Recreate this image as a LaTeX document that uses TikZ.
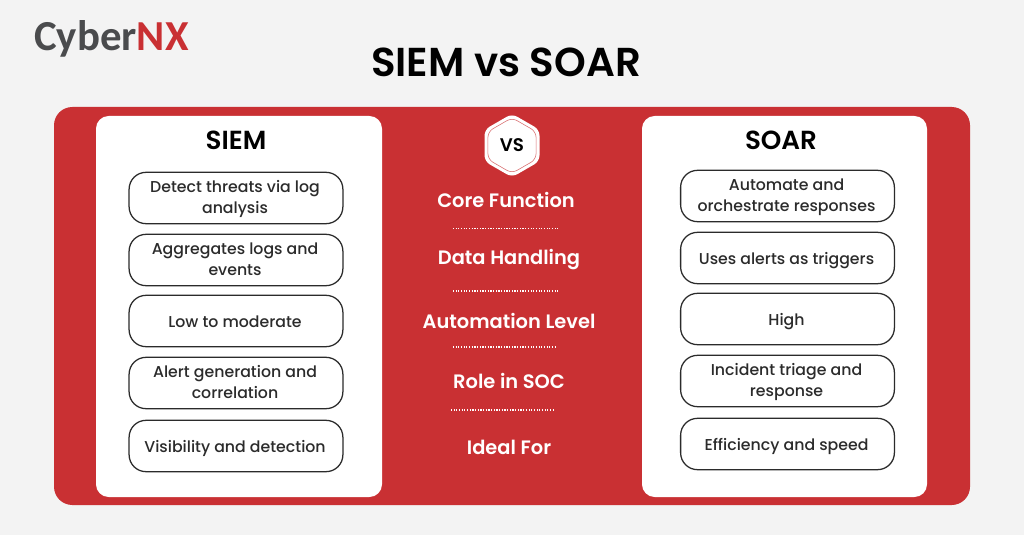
\documentclass[tikz,border=0pt]{standalone}
\usepackage{fontspec}
\usepackage{tikz}
\usetikzlibrary{shapes.geometric}
\setmainfont{Poppins Medium}[BoldFont={Poppins SemiBold}]
\newfontfamily\logofont{Carlito}
\definecolor{cxred}{HTML}{C93033}
\definecolor{cxpage}{HTML}{F3F3F3}
\definecolor{cxgrey}{HTML}{4A4B4D}
\definecolor{cxink}{HTML}{2B2B2B}
\tikzset{
    panel/.style={fill=white,rounded corners=9pt},
    cell/.style={draw=cxink,line width=0.9pt,fill=white,rounded corners=12pt,minimum width=152pt,minimum height=36.5pt,inner sep=0pt},
    celltext/.style={align=center,text=cxink,font=\fontsize{11.2}{15.2}\selectfont,inner sep=0pt,xshift=-0.7pt,yshift=-1.6pt,
        execute at begin node={\strut},execute at end node={\strut}},
    rowname/.style={text=white,font=\fontsize{13.8}{15}\selectfont\bfseries,text height=10pt,text depth=3pt,yshift=-2pt},
    colname/.style={text=black,font=\fontsize{18.6}{19}\selectfont\bfseries},
    rule/.style={white,line width=0.8pt,dash pattern=on 0.8pt off 1.1pt}
}
\begin{document}
\begin{tikzpicture}[x=0.711pt,y=-0.711pt]
    \useasboundingbox[fill=cxpage] (0,0) rectangle (1024,535);
    \fill[cxred,rounded corners=13pt] (54,107) rectangle (970,505);
    \fill[panel] (96,116) rectangle (382,497);
    \fill[panel] (642,116) rectangle (927,497);
    % header
    \node[anchor=base west,inner sep=0pt,font=\fontsize{30.4}{31}\selectfont\logofont\bfseries,text=cxgrey] (logo) at (34,51) {Cyber\textcolor{cxred}{NX}};
    \node[font=\fontsize{28.7}{30}\selectfont\bfseries,text=black] (title) at (506,62) {SIEM vs SOAR};
    \node[colname] (siem) at (236,140) {SIEM};
    \node[colname] (soar) at (781,140) {SOAR};
    % badge
    \node[draw=white,fill=white,line width=1pt,regular polygon,regular polygon sides=6,rotate=30,minimum size=44pt,rounded corners=4pt,inner sep=0pt] (hexouter) at (512,145.5) {};
    \node[draw=cxred!70,fill=white,line width=0.4pt,regular polygon,regular polygon sides=6,rotate=30,minimum size=39.5pt,rounded corners=4pt,inner sep=0pt] (hexinner) at (512,145.5) {};
    \node[font=\fontsize{13}{14}\selectfont\bfseries,text=black] (vs) at (512,145) {VS};
    % left column
    \node[cell,label={[celltext]center:Detect threats via log\\analysis}] (l1) at (236,198) {};
    \node[cell,label={[celltext]center:Aggregates logs and\\events}] (l2) at (236,260) {};
    \node[cell,label={[celltext]center:Low to moderate}] (l3) at (236,321) {};
    \node[cell,label={[celltext]center:Alert generation and\\correlation}] (l4) at (236,383) {};
    \node[cell,label={[celltext]center:Visibility and detection}] (l5) at (236,446) {};
    % right column
    \node[cell,label={[celltext]center:Automate and\\orchestrate responses}] (r1) at (787.5,196) {};
    \node[cell,label={[celltext]center:Uses alerts as triggers}] (r2) at (787.5,258) {};
    \node[cell,label={[celltext]center:High}] (r3) at (787.5,319) {};
    \node[cell,label={[celltext]center:Incident triage and\\response}] (r4) at (787.5,381) {};
    \node[cell,label={[celltext]center:Efficiency and speed}] (r5) at (787.5,444) {};
    % middle column
    \node[rowname] (core) at (506,200) {Core Function};
    \node[rowname] (data) at (509,257) {Data Handling};
    \node[rowname] (auto) at (509,321) {Automation Level};
    \node[rowname] (role) at (509,381) {Role in SOC};
    \node[rowname] (ideal) at (509,447) {Ideal For};
    \draw[rule] (453,228.5) -- (558,228.5);
    \draw[rule] (453,291) -- (558,291);
    \draw[rule] (453,347) -- (557,347);
    \draw[rule] (451,410) -- (555,410);
\end{tikzpicture}
\end{document}
